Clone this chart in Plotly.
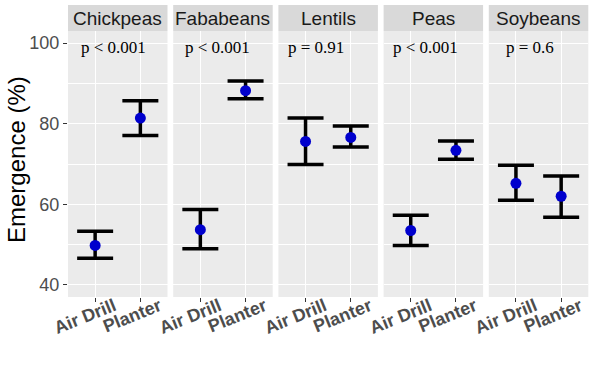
import plotly.graph_objects as go

crops = ["Chickpeas", "Fababeans", "Lentils", "Peas", "Soybeans"]
methods = ["Air Drill", "Planter"]
air_mean = [49.8, 53.7, 75.6, 53.5, 65.2]
air_upper = [53.3, 58.7, 81.4, 57.3, 69.7]
air_lower = [46.6, 49.0, 69.9, 49.8, 61.0]
planter_mean = [81.4, 88.2, 76.6, 73.4, 62.0]
planter_upper = [85.7, 90.6, 79.4, 75.7, 67.0]
planter_lower = [77.1, 86.2, 74.2, 71.2, 56.8]
p_labels = ["p < 0.001", "p < 0.001", "p = 0.91", "p < 0.001", "p = 0.6"]
y_ticks = [40, 60, 80, 100]

W, H = 594, 378
panel_left = 68
panel_w = 99.5
panel_step = 105.2
plot_top, plot_bot = 31, 297
strip_top = 5
p_text_x = [0.41, 0.37, 0.24, 0.32, 0.32]

fig = go.Figure()
for i, crop in enumerate(crops):
    ax = "" if i == 0 else str(i + 1)
    means = [air_mean[i], planter_mean[i]]
    ups = [air_upper[i] - air_mean[i], planter_upper[i] - planter_mean[i]]
    los = [air_mean[i] - air_lower[i], planter_mean[i] - planter_lower[i]]
    fig.add_trace(go.Scatter(
        x=methods, y=means, mode="markers",
        marker=dict(color="#0000CD", size=11),
        error_y=dict(type="data", symmetric=False, array=ups, arrayminus=los,
                     color="black", thickness=3.5, width=18),
        xaxis="x" + ax, yaxis="y" + ax, showlegend=False, hoverinfo="skip",
    ))
    x0 = (panel_left + i * panel_step) / W
    x1 = (panel_left + i * panel_step + panel_w) / W
    fig.update_layout(**{
        "xaxis" + ax: dict(
            domain=[x0, x1], anchor="y" + ax, type="category",
            categoryorder="array", categoryarray=methods,
            range=[-0.6, 1.6], showgrid=True, gridcolor="white", gridwidth=1.2,
            ticks="outside", ticklen=4, tickcolor="#333333", tickwidth=1,
            tickangle=-22, ticklabelshift=19, ticklabelstandoff=-13,
            tickfont=dict(family="Liberation Sans", size=18, color="#4D4D4D", weight="bold"),
            zeroline=False, showline=False, fixedrange=True, automargin=False,
        ),
        "yaxis" + ax: dict(
            domain=[1 - plot_bot / H, 1 - plot_top / H], anchor="x" + ax,
            range=[37, 103], tickvals=y_ticks,
            showgrid=True, gridcolor="white", gridwidth=1.2,
            minor=dict(tickvals=[50, 70, 90], showgrid=True, gridcolor="white", gridwidth=0.6, ticks=""),
            ticks="outside" if i == 0 else "", ticklen=4, tickcolor="#333333",
            showticklabels=(i == 0),
            tickfont=dict(family="Liberation Sans", size=18, color="#4D4D4D"),
            zeroline=False, showline=False, automargin=False, fixedrange=True,
            **({} if i == 0 else {"matches": "y"}),
        ),
    })
    fig.add_shape(type="rect", xref="paper", yref="paper", x0=x0, x1=x1,
                  y0=1 - plot_top / H, y1=1 - strip_top / H,
                  fillcolor="#D9D9D9", line=dict(width=0), layer="below")
    fig.add_shape(type="rect", xref="x" + ax + " domain", yref="y" + ax + " domain",
                  x0=0, x1=1, y0=0, y1=1,
                  fillcolor="#EBEBEB", line=dict(width=0), layer="below")
    fig.add_annotation(text=crop, xref="paper", yref="paper",
                       x=(x0 + x1) / 2, y=1 - (plot_top + strip_top) / 2 / H,
                       xanchor="center", yanchor="middle", showarrow=False,
                       font=dict(family="Liberation Sans", size=19, color="#1A1A1A"))
    fig.add_annotation(text=p_labels[i], xref="x" + ax, yref="y" + ax,
                       x=p_text_x[i], y=99, xanchor="center", yanchor="middle",
                       showarrow=False,
                       font=dict(family="Liberation Serif", size=17, color="black"))

fig.add_annotation(text="Emergence (%)", xref="paper", yref="paper",
                   x=16 / W, y=1 - 160 / H, textangle=-90,
                   xanchor="center", yanchor="middle", showarrow=False,
                   font=dict(family="Liberation Sans", size=24, color="black"))

fig.update_layout(
    width=W, height=H, margin=dict(l=0, r=0, t=0, b=0),
    paper_bgcolor="white", plot_bgcolor="rgba(0,0,0,0)",
)
fig.write_html("out.html", config={"displayModeBar": False},
               post_script="document.body.style.margin='0';")
